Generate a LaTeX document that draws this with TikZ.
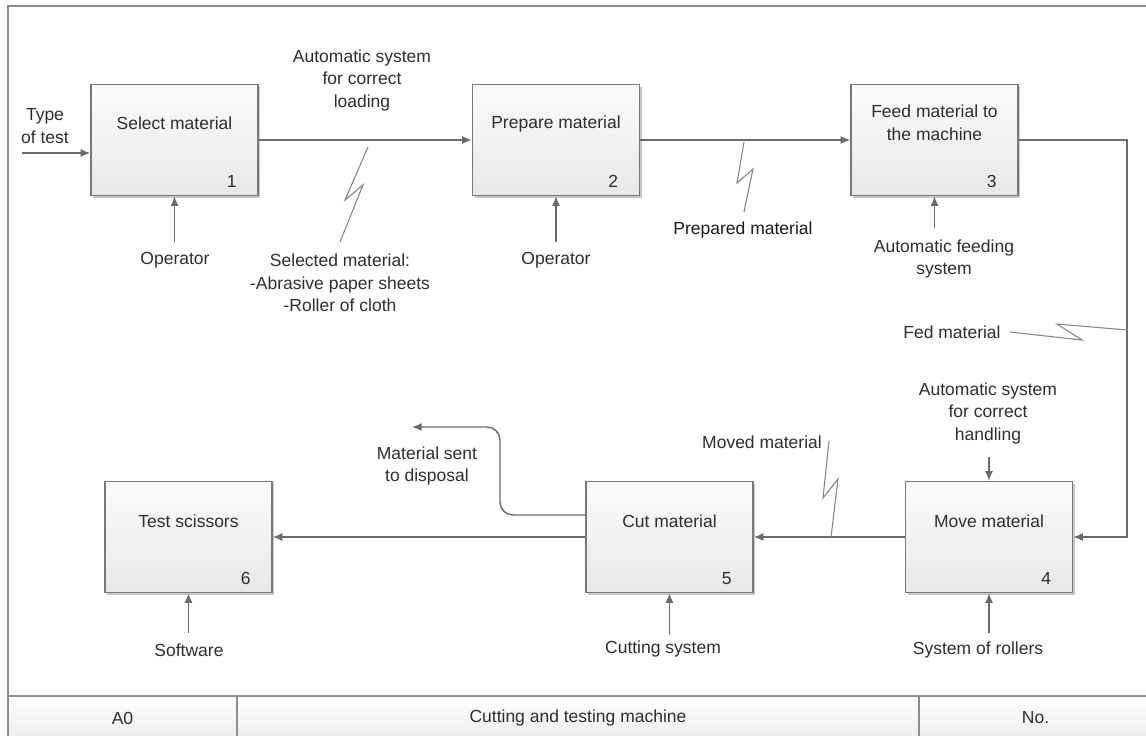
\documentclass[tikz,border=0pt]{standalone}
\usepackage{fontspec}
\setmainfont{Liberation Sans}
\usetikzlibrary{arrows.meta,calc,shadows}

\definecolor{linegray}{HTML}{6A6A6A}
\definecolor{boxedge}{HTML}{787878}
\definecolor{txt}{HTML}{2E2E2E}
\definecolor{txtdark}{HTML}{181822}
\definecolor{boxtop}{HTML}{FBFBFB}
\definecolor{boxbot}{HTML}{E8E8E8}
\definecolor{framegray}{HTML}{8C8C8C}
\definecolor{bolt}{HTML}{888888}

\begin{document}
\begin{tikzpicture}[x=1pt,y=-1pt,
  font=\fontsize{17.5}{22.5}\selectfont,
  proc/.style={draw=boxedge, line width=1.6pt, top color=boxtop, bottom color=boxbot,
    minimum width=167pt, minimum height=111pt, inner sep=0pt,
    drop shadow={shadow xshift=2pt, shadow yshift=-2pt, opacity=0.22, fill=black}},
  flow/.style={draw=linegray, line width=1.4pt, -{Latex[length=9.5pt,width=8pt]}},
  lbl/.style={text=txt, align=center, inner sep=0pt},
  boltline/.style={draw=bolt, line width=1.1pt, line join=miter},
  cell/.style={draw=framegray, line width=1.4pt, top color=white, bottom color=boxbot!80,
    minimum height=44pt, inner sep=0pt, text=txt}]

\useasboundingbox (0,0) rectangle (1146,736);

% outer frame
\draw[framegray, line width=1.5pt] (8,6) rectangle (1152,745);

% title block
\node[cell, minimum width=229pt] (ca) at (122.5,718) {A0};
\node[cell, minimum width=682pt] (cb) at (578,718) {Cutting and testing machine};
\node[cell, minimum width=233pt] (cc) at (1035.5,718) {No.};

% activity boxes
\node[proc] (b1) at (174.5,140) {};
\node[proc] (b2) at (556,140) {};
\node[proc] (b3) at (934.5,140) {};
\node[proc] (b4) at (989,537) {};
\node[proc] (b5) at (669.5,537) {};
\node[proc] (b6) at (188.5,537) {};

% box titles
\node[lbl] (t1) at ($(b1.north)+(0,40)$) {Select material};
\node[lbl] (t2) at ($(b2.north)+(0,40)$) {Prepare material};
\node[lbl] (t3) at ($(b3.north)+(0,39)$) {Feed material to\\the machine};
\node[lbl] (t4) at ($(b4.north)+(0,41)$) {Move material};
\node[lbl] (t5) at ($(b5.north)+(0,41)$) {Cut material};
\node[lbl] (t6) at ($(b6.north)+(0,41)$) {Test scissors};

% box numbers
\node[lbl] (n1) at ($(b1.south east)+(-27,-15)$) {1};
\node[lbl] (n2) at ($(b2.south east)+(-27,-15)$) {2};
\node[lbl] (n3) at ($(b3.south east)+(-27,-15)$) {3};
\node[lbl] (n4) at ($(b4.south east)+(-27,-15)$) {4};
\node[lbl] (n5) at ($(b5.south east)+(-27,-15)$) {5};
\node[lbl] (n6) at ($(b6.south east)+(-27,-15)$) {6};

% input
\coordinate (in) at (22,153);
\node[lbl] (type) at (45,126) {Type\\of test};
\draw[flow] (in) -- (in -| b1.west);

% main flow
\draw[flow] (b1.east) -- (b2.west);
\draw[flow] (b2.east) -- (b3.west);
\coordinate (rt) at (1127,330);
\draw[flow] (b3.east) -| (rt) |- (b4.east);
\draw[flow] (b4.west) -- (b5.east);
\draw[flow] (b5.west) -- (b6.east);

% output to disposal
\coordinate (dbend) at (500,427);
\coordinate (dsp) at (412,427);
\draw[flow, rounded corners=13pt] ($(b5.west)+(0,-22)$) -| (dbend) -- (dsp);
\node[lbl] (disp) at (427,466) {Material sent\\to disposal};

% mechanisms from below
\coordinate (c1) at (174.5,242);
\coordinate (c2) at (556,242);
\coordinate (c3) at (934.5,228);
\coordinate (c4) at (989,633);
\coordinate (c5) at (669.5,635);
\coordinate (c6) at (188.5,633);
\draw[flow] (c1) -- (b1.south);
\draw[flow] (c2) -- (b2.south);
\draw[flow] (c3) -- (b3.south);
\draw[flow] (c4) -- (b4.south);
\draw[flow] (c5) -- (b5.south);
\draw[flow] (c6) -- (b6.south);
\node[lbl] (op1) at (175,260) {Operator};
\node[lbl] (op2) at (556,260) {Operator};
\node[lbl] (afs) at (944,259) {Automatic feeding\\system};
\node[lbl] (rol) at (978,650) {System of rollers};
\node[lbl] (cut) at (663,649) {Cutting system};
\node[lbl] (sw) at (189,650) {Software};

% control from above
\coordinate (m4) at (989,457);
\draw[flow] (m4) -- (b4.north);
\node[lbl] (ash) at (988,413) {Automatic system\\for correct\\handling};

% arrow labels
\node[lbl] (asl) at (362,80) {Automatic system\\for correct\\loading};
\node[lbl] (sel) at (340,283) {Selected material:\\-Abrasive paper sheets\\-Roller of cloth};
\node[lbl, text=txtdark] (prep) at (743,230) {Prepared material};
\node[lbl] (fed) at (952,332) {Fed material};
\node[lbl] (mov) at (762,442) {Moved material};

% squiggle leaders
\draw[boltline] (368,147) -- (345,200) -- (363,185) -- (340,242);
\draw[boltline] (744,142) -- (737,183) -- (753,169) -- (744,212);
\draw[boltline] (1010,332) -- (1082,340) -- (1057,324) -- (rt);
\draw[boltline] (829,441) -- (823,498) -- (838,479) -- (831,537);

\end{tikzpicture}
\end{document}
